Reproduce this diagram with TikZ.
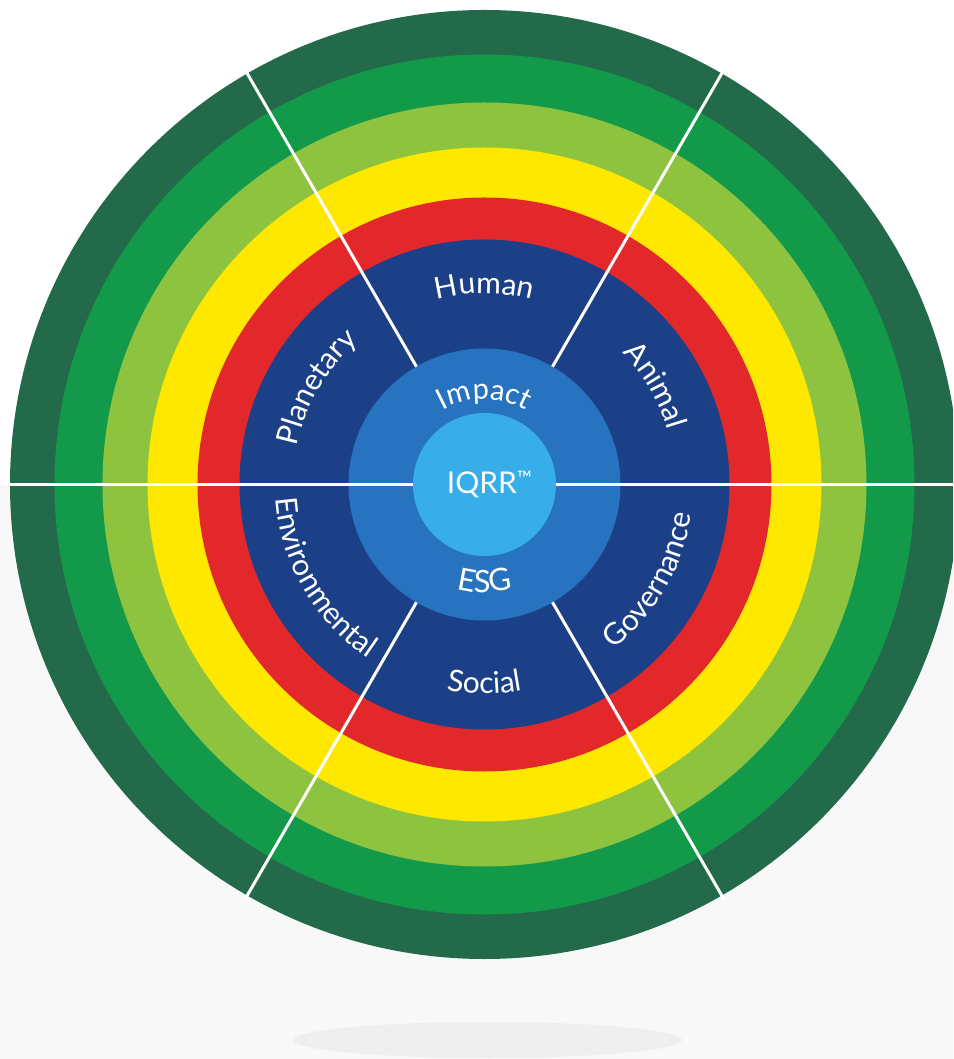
\documentclass[tikz,border=0pt]{standalone}
\usepackage{fontspec}
\setmainfont{Lato}
\usetikzlibrary{decorations.text}

\definecolor{ringdeep}{HTML}{236A4B}
\definecolor{ringgreen}{HTML}{12994A}
\definecolor{ringlime}{HTML}{8DC33F}
\definecolor{ringyellow}{HTML}{FFE800}
\definecolor{ringred}{HTML}{E2282A}
\definecolor{corenavy}{HTML}{1B4088}
\definecolor{coremid}{HTML}{2873BF}
\definecolor{corelight}{HTML}{37AEE9}
\definecolor{paper}{HTML}{F8F8F8}
\definecolor{floorshade}{HTML}{EFEFEF}

\newcommand\ringfont{\fontsize{30}{36}\selectfont\color{white}}
\newcommand\corefont{\fontsize{29}{34}\selectfont\color{white}}
\newcommand\esgfont{\fontsize{31}{36}\selectfont\color{white}}

\tikzset{
  divider/.style={draw=white, line width=3pt},
  % curved labels, clockwise on the upper half, anticlockwise below
  toplabel/.style={decorate, decoration={text along path, text align=center, text={|\ringfont|#1}}},
  botlabel/.style={decorate, decoration={text along path, text align=center, text={|\ringfont|#1}}},
  corelabel/.style={decorate, decoration={text along path, text align=center, text={|\corefont|#1}}},
  esglabel/.style={decorate, decoration={text along path, text align=center, text={|\esgfont|#1}}},
}

\begin{document}
\begin{tikzpicture}[x=1pt,y=1pt]
\useasboundingbox (-484.5,-574.5) rectangle (468.5,484.5);
\clip (-484.5,-574.5) rectangle (468.5,484.5);

% backdrop and floor shadow
\fill[white] (-484.5,0) rectangle (468.5,484.5);
\fill[paper] (-484.5,-574.5) rectangle (468.5,0);
\fill[floorshade] (3,-555.5) ellipse [x radius=194.5, y radius=18];

% rings, outside in
\foreach \r/\c in {474.5/ringdeep, 430/ringgreen, 382/ringlime, 337/ringyellow,
                   287/ringred, 245/corenavy, 136/coremid, 71.5/corelight}
  \fill[\c] (0,0) circle (\r);

% spokes
\foreach \a in {60,120,240,300}
  \draw[divider] (\a:136) -- (\a:480);
\draw[divider] (-480,0) -- (-71.5,0);
\draw[divider] (71.5,0) -- (480,0);

% sector names
\path[toplabel=Planetary] (210:191) arc[start angle=210, end angle=90, radius=191];
\path[toplabel=Human] (150:191) arc[start angle=150, end angle=30, radius=191];
\path[toplabel=Animal] (90:191) arc[start angle=90, end angle=-30, radius=191];
\path[botlabel=Environmental] (150:209) arc[start angle=150, end angle=270, radius=209];
\path[botlabel=Social] (210:209) arc[start angle=210, end angle=330, radius=209];
\path[botlabel=Governance] (270:209) arc[start angle=270, end angle=390, radius=209];

% inner ring
\path[corelabel=Impact] (150:85) arc[start angle=150, end angle=30, radius=85];
\path[esglabel=ESG] (210:108) arc[start angle=210, end angle=330, radius=108];

\node[inner sep=0pt] (iqrr) at (5,0) {\ringfont IQRR{\fontsize{20}{20}\selectfont\raisebox{8pt}{™}}};
\end{tikzpicture}
\end{document}
